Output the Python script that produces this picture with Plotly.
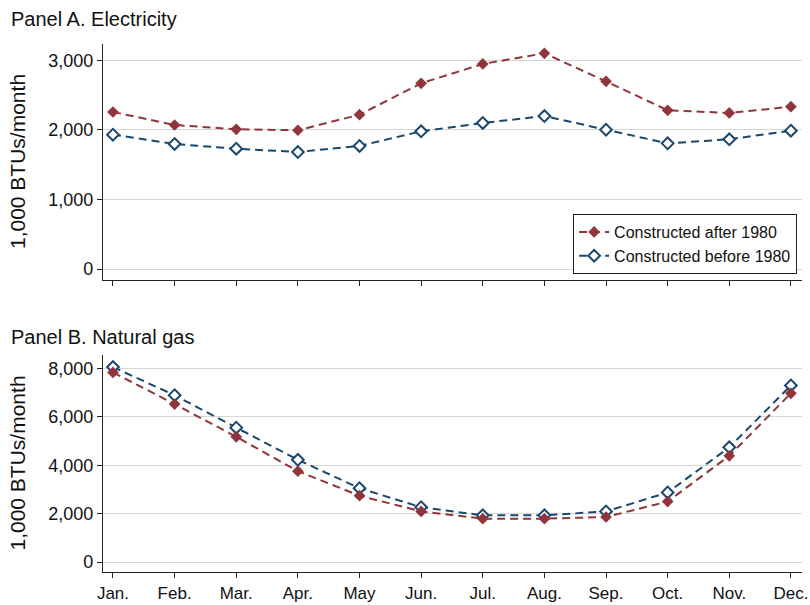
import plotly.graph_objects as go

# Monthly household energy use, 1,000 BTUs/month
months = ["Jan.", "Feb.", "Mar.", "Apr.", "May", "Jun.",
          "Jul.", "Aug.", "Sep.", "Oct.", "Nov.", "Dec."]

elec_after_1980 = [2259, 2072, 2010, 1996, 2220, 2672, 2950, 3103, 2700, 2283, 2245, 2335]
elec_before_1980 = [1933, 1799, 1731, 1683, 1770, 1981, 2101, 2201, 2004, 1808, 1866, 1990]

gas_after_1980 = [7842, 6531, 5180, 3761, 2746, 2097, 1797, 1797, 1866, 2503, 4393, 6978]
gas_before_1980 = [8061, 6897, 5558, 4231, 3055, 2272, 1935, 1935, 2097, 2880, 4746, 7302]

MAROON = "#90353b"
NAVY = "#1a476f"
FONT = "Liberation Sans, Arial, Helvetica, sans-serif"
DASH = "8px,5px"

x = list(range(len(months)))

fig = go.Figure()


def add_series(y, name, color, filled, xa, ya, legend):
    fig.add_trace(go.Scatter(
        x=x, y=y, name=name, mode="lines+markers",
        xaxis=xa, yaxis=ya, showlegend=legend,
        line=dict(color=color, width=2, dash=DASH),
        marker=dict(symbol="diamond", size=9,
                    color=color if filled else "white",
                    line=dict(color=color, width=2 if not filled else 0)),
    ))


# Panel A: electricity
add_series(elec_before_1980, "Constructed before 1980", NAVY, False, "x", "y", True)
add_series(elec_after_1980, "Constructed after 1980", MAROON, True, "x", "y", True)
# Panel B: natural gas
add_series(gas_before_1980, "Constructed before 1980", NAVY, False, "x2", "y2", False)
add_series(gas_after_1980, "Constructed after 1980", MAROON, True, "x2", "y2", False)

xrange = [-0.162, 11.18]
axis_common = dict(showline=True, linecolor="#222222", linewidth=1.3,
                   ticks="outside", ticklen=5, tickwidth=1.2, tickcolor="#222222",
                   automargin=False)
tick_font = dict(family=FONT, size=18, color="#111111")

# Plot area: 44 px top margin, 33 px bottom margin, 528 px of panels
TOP, BOT, H = 44, 33, 605
plot_h = H - TOP - BOT


def frac(px_from_top):
    return (H - BOT - px_from_top) / plot_h


a_dom = [frac(280), 1]
b_dom = [0, frac(355)]

fig.update_layout(
    width=810, height=605,
    margin=dict(l=103, r=8, t=TOP, b=BOT),
    paper_bgcolor="white", plot_bgcolor="white",
    font=dict(family=FONT, color="#111111"),
    xaxis=dict(domain=[0, 1], anchor="y", range=xrange, tickmode="array",
               tickvals=x, showticklabels=False, showgrid=False, zeroline=False,
               tickfont=tick_font, **axis_common),
    yaxis=dict(domain=a_dom, anchor="x", range=[-158, 3237],
               tickvals=[0, 1000, 2000, 3000], tickformat=",",
               showgrid=True, gridcolor="#d6d6d6", gridwidth=1, zeroline=False,
               tickfont=tick_font, **axis_common),
    xaxis2=dict(domain=[0, 1], anchor="y2", range=xrange, tickmode="array",
                tickvals=x, ticktext=months, showgrid=False, zeroline=False,
                tickfont=dict(family=FONT, size=17, color="#111111"),
                **axis_common),
    yaxis2=dict(domain=b_dom, anchor="x2", range=[-406, 8560],
                tickvals=[0, 2000, 4000, 6000, 8000], tickformat=",",
                showgrid=True, gridcolor="#d6d6d6", gridwidth=1, zeroline=False,
                tickfont=tick_font, **axis_common),
    legend=dict(x=0.993, y=frac(274), xanchor="right", yanchor="bottom",
                bgcolor="white", bordercolor="#222222", borderwidth=1,
                traceorder="reversed",
                font=dict(family=FONT, size=16, color="#111111"),
                itemwidth=30, tracegroupgap=0),
    showlegend=True,
)

# Panel titles
fig.add_annotation(text="Panel A. Electricity", xref="paper", yref="paper",
                   x=-0.135, y=frac(19), xanchor="left", yanchor="middle",
                   showarrow=False, font=dict(family=FONT, size=20, color="#111111"))
fig.add_annotation(text="Panel B. Natural gas", xref="paper", yref="paper",
                   x=-0.135, y=frac(337), xanchor="left", yanchor="middle",
                   showarrow=False, font=dict(family=FONT, size=20, color="#111111"))

# Y-axis titles
for ymid in [sum(a_dom) / 2, sum(b_dom) / 2]:
    fig.add_annotation(text="1,000 BTUs/month", xref="paper", yref="paper",
                       x=-0.123, y=ymid, xanchor="center", yanchor="middle",
                       textangle=-90, showarrow=False,
                       font=dict(family=FONT, size=21, color="#111111"))

fig.write_html("out.html")
